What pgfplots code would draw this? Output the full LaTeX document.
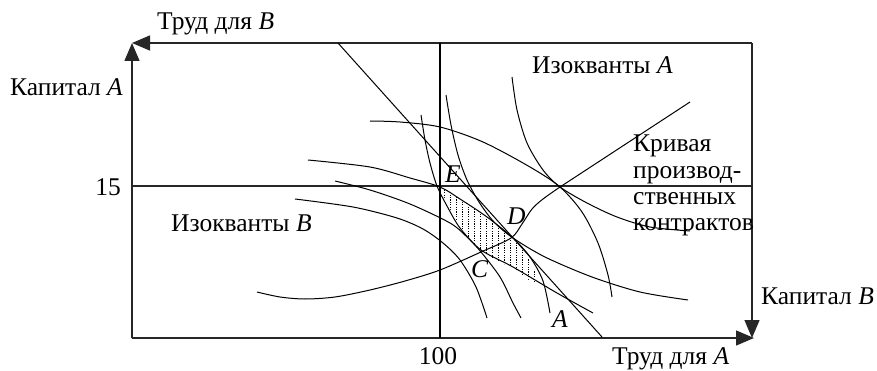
\documentclass[border=0pt]{standalone}
\usepackage{fontspec}
\setmainfont{Liberation Serif}
\usepackage{pgfplots}
\pgfplotsset{compat=1.18}
\usetikzlibrary{arrows.meta,patterns}
\pgfdeclarepatternformonly{vdots}{\pgfqpoint{0pt}{0pt}}{\pgfqpoint{1pt}{2.4pt}}{\pgfqpoint{6pt}{2.4pt}}{%
  \pgfpathrectangle{\pgfqpoint{0pt}{0pt}}{\pgfqpoint{0.6pt}{1.1pt}}\pgfusepath{fill}}
\begin{document}
\begin{tikzpicture}[every node/.style={inner sep=0pt, font=\fontsize{25.5}{28}\selectfont}]
\begin{axis}[hide axis, scale only axis, width=877pt, height=371pt,
  xmin=0, xmax=877, ymin=0, ymax=371, y dir=reverse, clip=false]
\addplot[draw=none, forget plot] coordinates {(0,0) (877,371)};
% shaded lens
\addplot[draw=none, pattern=vdots, forget plot] coordinates {
 (441,188) (455,195) (470,205) (487,217) (500,226) (513,238) (523,249) (532,264) (538,277) (541,284)
 (530,281) (513,268) (495,260) (480,250) (467,236) (455,218) (447,204) (441,190)} -- cycle;
% box and axes
\addplot[black!85, line width=1.4pt, -{Triangle[length=18pt,width=15pt]}] coordinates {(132,338) (132,43)};
\addplot[black!85, line width=1.4pt, -{Triangle[length=18pt,width=15pt]}] coordinates {(132,338) (754,338)};
\addplot[black!85, line width=1.4pt, -{Triangle[length=18pt,width=15pt]}] coordinates {(752,43) (132,43)};
\addplot[black!85, line width=1.4pt, -{Triangle[length=18pt,width=15pt]}] coordinates {(752,43) (752,338)};
\addplot[black!85, line width=1.3pt] coordinates {(132,186) (752,186)};
\addplot[black, line width=1.1pt] coordinates {(440,43) (440,338)};
% straight line through D
\addplot[black, line width=1pt] coordinates {(338,43) (602,337)};
% isoquants B
\addplot[black, line width=1pt, smooth] coordinates {(370,121) (400,122) (440,127) (483,142) (530,167) (560,187) (582,212) (598,243) (608,275) (612,297)};
\addplot[black, line width=1pt, smooth] coordinates {(308,160) (370,167) (410,178) (440,187) (460,199) (487,217) (513,238) (530,257) (543,281) (550,313)};
\addplot[black, line width=1pt, smooth] coordinates {(335,181) (370,190) (410,204) (450,223) (467,237) (481,252) (500,277) (513,303) (521,318)};
\addplot[black, line width=1pt, smooth] coordinates {(295,199) (353,207) (397,218) (423,229) (443,243) (460,260) (476,287) (487,318)};
% isoquants A
\addplot[black, line width=1pt, smooth] coordinates {(421,115) (425,140) (430,163) (437,186) (447,206) (460,228) (481,250) (513,267) (557,293) (593,313)};
\addplot[black, line width=1pt, smooth] coordinates {(446,95) (451,125) (458,155) (467,180) (479,202) (494,222) (513,238) (545,257) (592,277) (640,292) (688,300)};
\addplot[black, line width=1pt, smooth] coordinates {(512,77) (517,110) (527,143) (543,170) (560,187) (587,203) (617,217) (650,227) (690,231)};
% contract curve
\addplot[black, line width=1pt, smooth] coordinates {(257,292) (280,297) (305,299) (335,297) (370,290) (405,281) (440,270) (481,252) (511,238) (522,224) (532,209) (543,199) (560,187)};
\addplot[black, line width=1pt] coordinates {(560,187) (690,102)};
% labels
\node[anchor=base west] at (axis cs:157,30) {Труд для \textit{B}};
\node[anchor=base west] at (axis cs:10,96) {Капитал \textit{A}};
\node[anchor=base east] at (axis cs:121,196) {15};
\node[anchor=base] at (axis cs:438,364) {100};
\node[anchor=base west] at (axis cs:612,364) {Труд для \textit{A}};
\node[anchor=base west] at (axis cs:761,304) {Капитал \textit{B}};
\node[anchor=base west] at (axis cs:532,74) {Изокванты \textit{A}};
\node[anchor=base west] at (axis cs:171,232) {Изокванты \textit{B}};
\node[anchor=base west] at (axis cs:633,152) {Кривая};
\node[anchor=base west] at (axis cs:633,179) {производ-};
\node[anchor=base west] at (axis cs:633,205) {ственных};
\node[anchor=base west] at (axis cs:633,230) {контрактов};
\node[anchor=base west] at (axis cs:445,183) {\textit{E}};
\node[anchor=base west] at (axis cs:507,225) {\textit{D}};
\node[anchor=base west] at (axis cs:471,277) {\textit{C}};
\node[anchor=base west] at (axis cs:552,327) {\textit{A}};
\end{axis}
\end{tikzpicture}
\end{document}
